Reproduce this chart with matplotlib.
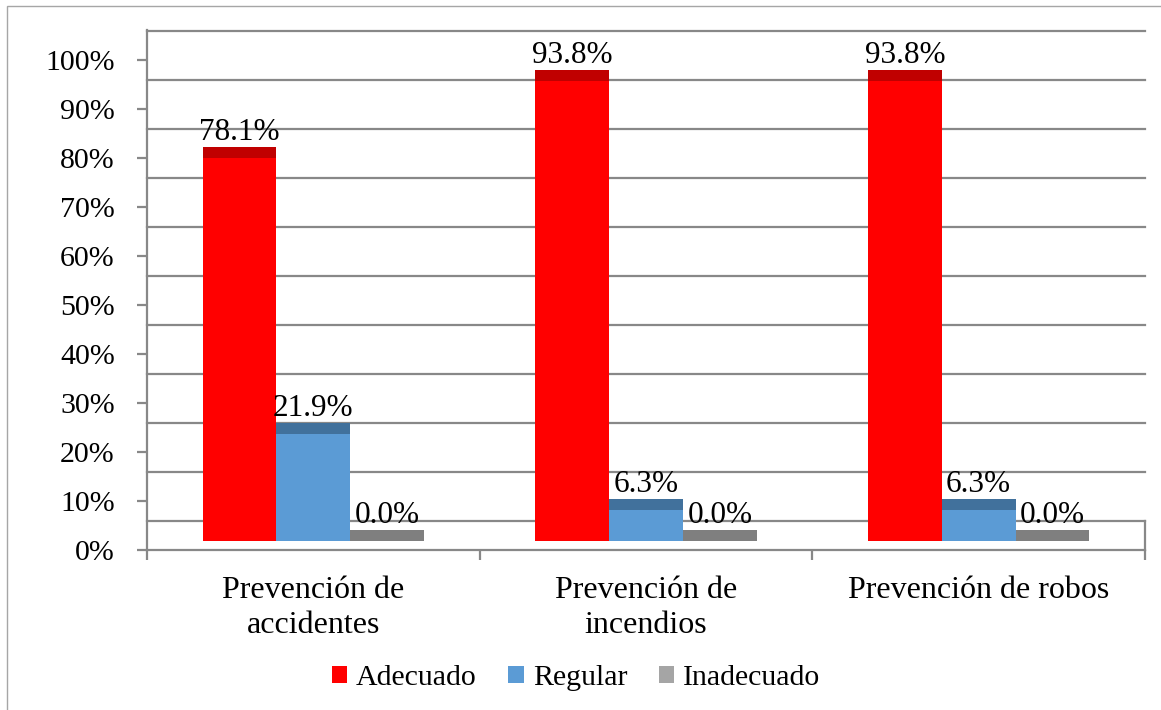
import numpy as np
import matplotlib
matplotlib.use("Agg")
import matplotlib.pyplot as plt
from matplotlib.patches import Patch, Rectangle
from matplotlib.transforms import ScaledTranslation

# datos del grafico
categorias = ["Prevención de\naccidentes", "Prevención de\nincendios", "Prevención de robos"]
series = ["Adecuado", "Regular", "Inadecuado"]
adecuado = [78.1, 93.8, 93.8]
regular = [21.9, 6.3, 6.3]
inadecuado = [0.0, 0.0, 0.0]
ticks_y = list(range(0, 101, 10))

colores = ["#ff0000", "#5b9bd5", "#a5a5a5"]
colores_tapa = ["#c00000", "#41719c", "#7f7f7f"]
gris = "#888888"

plt.rcParams["font.family"] = ["Liberation Serif", "DejaVu Serif"]

W, H, DPI = 1161, 710, 100
fig = plt.figure(figsize=(W / DPI, H / DPI), dpi=DPI)

# area de trazado (px): eje frontal 0% en y=550, 100% en y=60
x0, x1 = 147, 1145
y_base, y_top = 550, 60
ax = fig.add_axes([x0 / W, 1 - y_base / H, (x1 - x0) / W, (y_base - y_top) / H])
ax.set_xlim(-0.5, 2.5)
ax.set_ylim(0, 100)
ax.patch.set_visible(False)

px_unidad = (y_base - y_top) / 100
fondo = 29   # desplazamiento de la pared del fondo (px)
base = 9     # desplazamiento de la base de las barras (px)
tapa = 11 / px_unidad  # profundidad de la tapa de cada barra


def desplazar(dy_px):
    return ax.transData + ScaledTranslation(0, dy_px / DPI, fig.dpi_scale_trans)


# lineas de cuadricula en la pared del fondo
for v in ticks_y:
    ax.plot([-0.5, 2.5], [v, v], color=gris, lw=1.6, transform=desplazar(fondo),
            clip_on=False, zorder=1)

# barras con su tapa oscura
valores = [adecuado, regular, inadecuado]
ancho = 0.222
x = np.arange(len(categorias))
for i, (vals, c, ct) in enumerate(zip(valores, colores, colores_tapa)):
    xs = x + (i - 1) * ancho
    cuerpo = ax.bar(xs, vals, width=ancho, color=c, zorder=3)
    tapas = ax.bar(xs, tapa, bottom=vals, width=ancho, color=ct, zorder=3)
    for p in list(cuerpo) + list(tapas):
        p.set_transform(desplazar(base))
        p.set_clip_on(False)
    for xi, v in zip(xs, vals):
        ax.text(xi, v + tapa, f"{v:.1f}%", ha="center", va="baseline", fontsize=22.5,
                transform=desplazar(base + 7), zorder=4, clip_on=False)

# ejes y suelo
for s in ["top", "right", "left"]:
    ax.spines[s].set_visible(False)
ax.spines["bottom"].set_color(gris)
ax.spines["bottom"].set_linewidth(1.6)
ax.plot([0, 0], [0, (y_base - 30) / (y_base - y_top)], color=gris, lw=1.6,
        transform=ax.transAxes, clip_on=False)
ax.plot([1, 1], [0, fondo / (y_base - y_top)], color=gris, lw=1.6,
        transform=ax.transAxes, clip_on=False)

ax.set_yticks(ticks_y, [f"{v}%" for v in ticks_y])
ax.tick_params(axis="y", length=7.2, width=1.6, color=gris, labelsize=21.5, pad=16)
ax.set_xticks(x, categorias)
ax.set_xticks([-0.5, 0.5, 1.5, 2.5], minor=True)
ax.tick_params(axis="x", which="major", length=0, labelsize=23, pad=19)
ax.tick_params(axis="x", which="minor", length=7.2, width=1.6, color=gris)
for lbl in ax.get_xticklabels():
    lbl.set_linespacing(1.25)

# leyenda
handles = [Patch(facecolor=c, edgecolor="none") for c in colores]
fig.legend(handles, series, loc="center", bbox_to_anchor=(576 / W, 1 - 678 / H), ncol=3,
           frameon=False, fontsize=21.5, handlelength=0.52, handleheight=0.52,
           handletextpad=0.3, columnspacing=1.05)

# marco exterior
fig.add_artist(Rectangle((7 / W, -0.1), 1.2, 1 - 6 / H + 0.1, transform=fig.transFigure,
                         fill=False, ec="#a6a6a6", lw=1))

fig.savefig("out.png", dpi=DPI)
